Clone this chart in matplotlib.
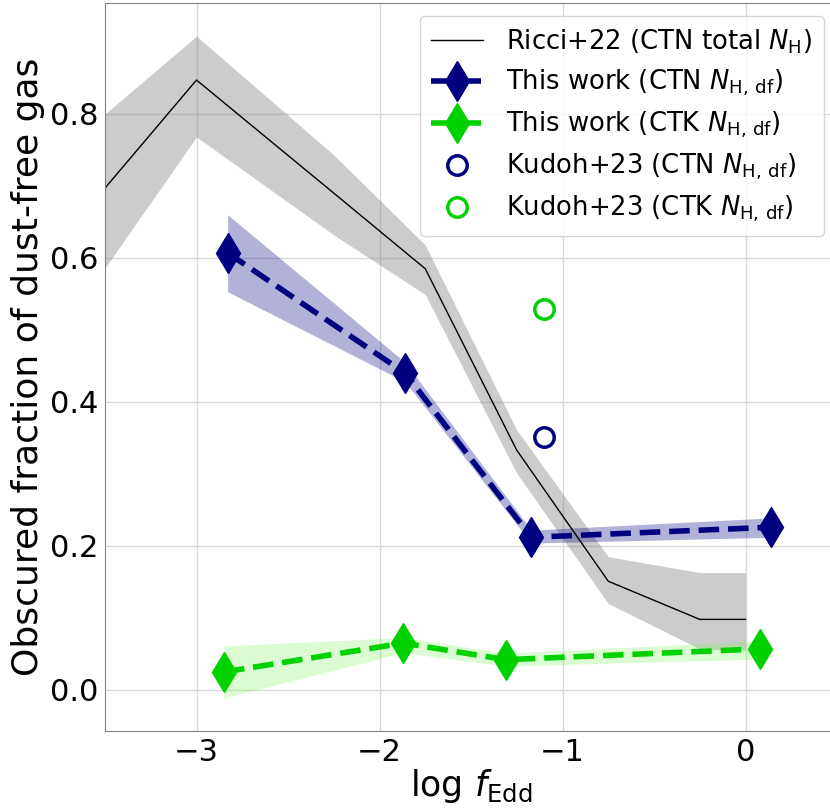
import matplotlib.pyplot as plt

# Ricci+22 (CTN total NH)
ricci_x = [-3.5, -3.0, -2.25, -1.75, -1.25, -0.75, -0.25, 0.0]
ricci_y = [0.697, 0.847, 0.690, 0.585, 0.333, 0.151, 0.098, 0.098]
ricci_lo = [0.586, 0.768, 0.632, 0.549, 0.301, 0.120, 0.057, 0.055]
ricci_hi = [0.800, 0.908, 0.743, 0.618, 0.361, 0.185, 0.163, 0.163]

# This work, CTN
ctn_x = [-2.83, -1.86, -1.17, 0.14]
ctn_y = [0.607, 0.440, 0.212, 0.226]
ctn_lo = [0.553, 0.428, 0.204, 0.212]
ctn_hi = [0.660, 0.455, 0.222, 0.239]

# This work, CTK
ctk_x = [-2.85, -1.87, -1.31, 0.08]
ctk_y = [0.025, 0.065, 0.042, 0.057]
ctk_lo = [-0.011, 0.052, 0.033, 0.043]
ctk_hi = [0.061, 0.073, 0.051, 0.068]

# Kudoh+23
kudoh_x = [-1.1]
kudoh_ctn = [0.351]
kudoh_ctk = [0.529]

navy = 'navy'
green = (0.0, 0.82, 0.0)

fig = plt.figure(figsize=(8.3, 8.1), dpi=100)
# the right edge of the axes runs just past the figure, as in the original crop
ax = fig.add_axes([105 / 830, 79 / 810, 732 / 830, 728 / 810])

ax.fill_between(ricci_x, ricci_lo, ricci_hi, color='gray', alpha=0.4, lw=0)
ax.plot(ricci_x, ricci_y, color='black', lw=1, label=r'Ricci+22 (CTN total $N_{\rm H}$)')

ax.fill_between(ctn_x, ctn_lo, ctn_hi, color=navy, alpha=0.3, lw=0)
ax.plot(ctn_x, ctn_y, color=navy, ls='--', lw=4, marker='d', ms=20,
        label=r'This work (CTN $N_{\rm H,\,df}$)')

ax.fill_between(ctk_x, ctk_lo, ctk_hi, color=(0.45, 0.95, 0.3), alpha=0.25, lw=0)
ax.plot(ctk_x, ctk_y, color=green, ls='--', lw=4, marker='d', ms=20,
        label=r'This work (CTK $N_{\rm H,\,df}$)')

ax.plot(kudoh_x, kudoh_ctn, ls='none', marker='o', ms=14, mfc='none', mec=navy, mew=2.5,
        label=r'Kudoh+23 (CTN $N_{\rm H,\,df}$)')
ax.plot(kudoh_x, kudoh_ctk, ls='none', marker='o', ms=14, mfc='none', mec=green, mew=2.5,
        label=r'Kudoh+23 (CTK $N_{\rm H,\,df}$)')

ax.set_xlim(-3.5, 0.5)
ax.set_ylim(-0.057, 0.954)
ax.set_xticks([-3, -2, -1, 0])
ax.set_yticks([0.0, 0.2, 0.4, 0.6, 0.8])
ax.grid(True, color='0.85', lw=1)
ax.set_axisbelow(True)
for s in ax.spines.values():
    s.set_color('0.5')
ax.tick_params(labelsize=22, length=0, pad=5)

ax.set_xlabel(r'log $f_{\rm Edd}$', fontsize=25, labelpad=0)
ax.set_ylabel('Obscured fraction of dust-free gas', fontsize=26, labelpad=3)

ax.legend(loc='upper right', fontsize=18.6, handlelength=2.0, borderpad=0.45,
          labelspacing=0.45, handletextpad=0.9, framealpha=0.8)

fig.savefig('out.png', dpi=100)
